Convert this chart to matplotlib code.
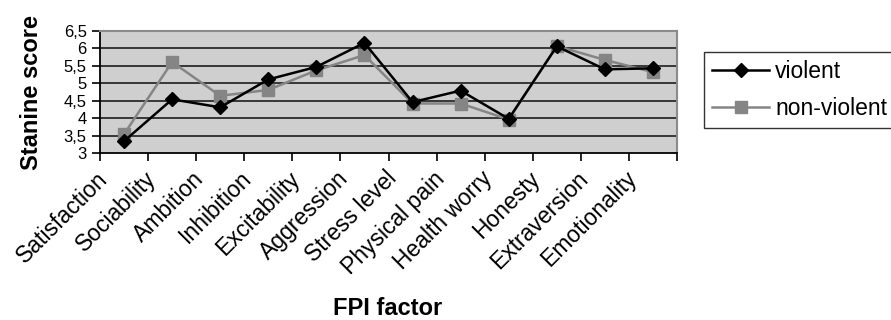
import numpy as np
import matplotlib
matplotlib.use('Agg')
import matplotlib.pyplot as plt
import matplotlib.transforms as mtransforms
from matplotlib.ticker import FixedLocator, FuncFormatter

plt.rcParams['font.family'] = ['Liberation Sans', 'DejaVu Sans']

# FPI-Faktoren und Stanine-Werte
factors = ['Satisfaction', 'Sociability', 'Ambition', 'Inhibition', 'Excitability',
           'Aggression', 'Stress level', 'Physical pain', 'Health worry', 'Honesty',
           'Extraversion', 'Emotionality']
violent = [3.34, 4.54, 4.31, 5.11, 5.47, 6.16, 4.46, 4.79, 3.98, 6.06, 5.40, 5.43]
non_violent = [3.54, 5.61, 4.64, 4.81, 5.37, 5.81, 4.42, 4.42, 3.96, 6.07, 5.67, 5.32]

fig = plt.figure(figsize=(8.91, 3.20), dpi=100)
ax = fig.add_axes([100/891, 1 - 153/320, 577/891, 122/320])
ax.set_facecolor('#cfcfcf')

x = np.arange(len(factors))
ax.plot(x, violent, color='black', lw=1.8, marker='D', ms=7.5, label='violent', zorder=3)
ax.plot(x, non_violent, color='#858585', lw=1.8, marker='s', ms=8, label='non-violent', zorder=2)

ax.set_xlim(-0.5, len(factors) - 0.5)
ax.set_ylim(3, 6.5)

# Gitterlinien
yt = np.arange(3, 6.51, 0.5)
ax.set_yticks(yt)
ax.yaxis.set_major_formatter(FuncFormatter(lambda v, p: ('%g' % v).replace('.', ',')))
for v in yt[1:]:
    ax.axhline(v, color='#2a2a2a', lw=1.3, zorder=1)

# Kategorienbeschriftung schraeg, nach links versetzt
ax.set_xticks([])
ax.xaxis.set_minor_locator(FixedLocator(np.arange(-0.5, len(factors), 1)))
ax.tick_params(axis='x', which='minor', length=6, width=1.2, direction='out')
shift = mtransforms.ScaledTranslation(-28/100, -14/100, fig.dpi_scale_trans)
for xi, name in zip(x, factors):
    ax.text(xi, 0, name, transform=ax.get_xaxis_transform() + shift, rotation=45,
            ha='right', va='top', rotation_mode='anchor', fontsize=16.5)
ax.tick_params(axis='y', length=6, width=1.2, labelsize=12, pad=3.5)

for s in ['top', 'right']:
    ax.spines[s].set_color('#8a8a8a')
    ax.spines[s].set_linewidth(1.5)
for s in ['left', 'bottom']:
    ax.spines[s].set_color('black')
    ax.spines[s].set_linewidth(1.3)

fig.text(32/891, 1 - 92/320, 'Stanine score', fontsize=17, fontweight='bold',
         rotation=90, ha='center', va='center')
fig.text(388/891, 0.035, 'FPI factor', fontsize=17, fontweight='bold', ha='center', va='center')

leg = ax.legend(loc='upper left', bbox_to_anchor=(704/891, 1 - 52/320), bbox_transform=fig.transFigure,
                fontsize=16.5, frameon=True, fancybox=False, edgecolor='black', handlelength=2.5,
                labelspacing=0.6, borderpad=0.35, handletextpad=0.25, borderaxespad=0)
leg.get_frame().set_linewidth(1.0)

fig.savefig('out.png', dpi=100)
